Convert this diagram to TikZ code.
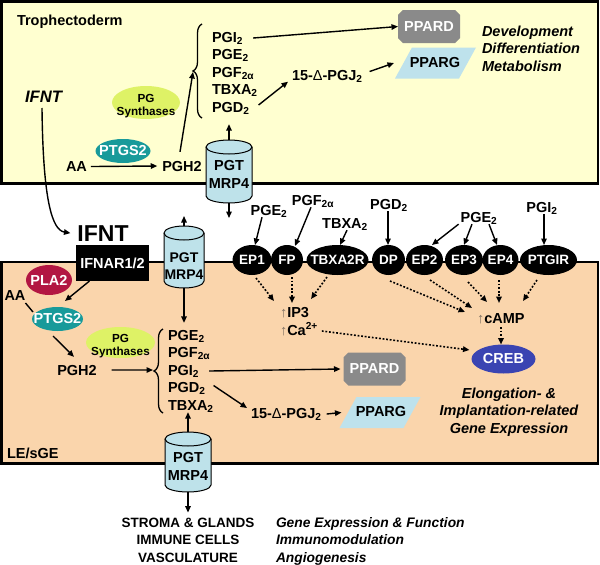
\documentclass[tikz,border=0pt]{standalone}
\usepackage{fontspec}
\setmainfont{Liberation Sans}
\usetikzlibrary{shapes.geometric,shapes.misc,decorations.pathreplacing,arrows.meta}
\definecolor{tropho}{RGB}{255,255,208}
\definecolor{lesge}{RGB}{250,213,172}
\definecolor{cylc}{RGB}{190,226,234}
\definecolor{ppargc}{RGB}{190,226,236}
\definecolor{ppardc}{RGB}{138,138,138}
\definecolor{ptgsc}{RGB}{24,154,154}
\definecolor{plac}{RGB}{178,22,66}
\definecolor{synthc}{RGB}{222,242,102}
\definecolor{crebc}{RGB}{58,68,178}
\definecolor{upc}{RGB}{130,115,100}
\newcommand\zw[1]{\makebox[0pt]{#1}}
\newcommand\mysub[1]{\textsubscript{#1}}
\newcommand\upa{{\color{upc}\mdseries ↑}}
\newcommand\mycyl[2]{%
  \draw[fill=cylc, line width=1pt] ([yshift=-7pt]#1.north west) -- ([yshift=7pt]#1.south west)
    arc[start angle=180, end angle=360, x radius=#2, y radius=7pt]
    -- ([yshift=-7pt]#1.north east)
    arc[start angle=0, end angle=180, x radius=#2, y radius=7pt] -- cycle;
  \draw[line width=1pt] ([yshift=-7pt]#1.north west) arc[start angle=180, end angle=360, x radius=#2, y radius=7pt];}
\newcommand\mypara[1]{%
  \fill[ppargc] ([xshift=17pt]#1.north west) -- (#1.north east) -- ([xshift=-17pt]#1.south east) -- (#1.south west) -- cycle;}
\begin{document}
\begin{tikzpicture}[x=1pt,y=-1pt,
  every node/.style={inner sep=0pt, outer sep=0pt, font=\bfseries\fontsize{14.5}{17.5}\selectfont},
  arr/.style={-{Triangle[length=6.5pt,width=5.5pt]}, line width=1.4pt},
  darr/.style={-{Triangle[length=6.5pt,width=5.5pt]}, line width=1.6pt, dash pattern=on 1.8pt off 1.8pt},
  recep/.style={ellipse, fill=black, text=white, minimum height=30, font=\bfseries\fontsize{13.5}{15}\selectfont},
  ptgs/.style={ellipse, fill=ptgsc, text=white},
  synth/.style={ellipse, fill=synthc},
  synthtxt/.style={align=center, anchor=base, font=\bfseries\fontsize{11.7}{13}\selectfont},
  ppard/.style={chamfered rectangle, chamfered rectangle xsep=9pt, chamfered rectangle ysep=11pt, fill=ppardc, text=white, minimum width=62, minimum height=33},
  parabox/.style={minimum width=81, minimum height=31},
  cylbox/.style={minimum width=46, minimum height=62},
  cyltxt/.style={align=center, anchor=base},
  lst/.style={anchor=base west},
  ital/.style={font=\bfseries\itshape\fontsize{14.5}{17.5}\selectfont},
  brc/.style={decorate, decoration={brace, amplitude=9pt}, line width=1.3pt}
]
\useasboundingbox (0,0) rectangle (600,565);
\fill[white] (0,0) rectangle (600,565);
% compartments
\draw[fill=tropho, line width=2.4pt] (1.5,1.5) rectangle (598,183.5);
\draw[fill=lesge, line width=2.4pt] (1.5,262) rectangle (598,463.5);

% cylinders
\node[cylbox, minimum height=63] (cylT) at (229,171.5) {};
\mycyl{cylT}{23pt}
\node[cylbox, minimum width=40, minimum height=62] (cylM) at (184,257) {};
\mycyl{cylM}{20pt}
\node[cylbox, minimum height=60] (cylL) at (188,462) {};
\mycyl{cylL}{23pt}
\node[cyltxt] (cylTt) at (229,188) {PGT\\MRP4};
\node[cyltxt, font=\bfseries\fontsize{14}{17}\selectfont] (cylMt) at (184,279) {PGT\\MRP4};
\node[cyltxt] (cylLt) at (188,480) {PGT\\MRP4};

% ---------- Trophectoderm ----------
\node[lst] (tropholbl) at (17,25.7) {Trophectoderm};
\node[anchor=base, font=\bfseries\itshape\fontsize{16.6}{18}\selectfont] (ifntT) at (43.5,102) {IFNT};
\node[anchor=base] (aaT) at (76.5,171.5) {AA};
\node[ptgs, minimum width=55, minimum height=24] (ptgsT) at (123,151) {\zw{PTGS2}};
\node[anchor=base] (pghT) at (182,171) {PGH2};
\node[synth, minimum width=68, minimum height=33] (synT) at (146,102.5) {};
\node[synthtxt] (synTt) at (146,115) {PG\\Synthases};
\node[lst] (pgiT) at (212,42) {PGI\mysub{2}};
\node[lst] (pgeT) at (212,59.5) {PGE\mysub{2}};
\node[lst] (pgfT) at (212,77) {PGF\mysub{2α}};
\node[lst] (tbxT) at (212,94.5) {TBXA\mysub{2}};
\node[lst] (pgdT) at (212,112) {PGD\mysub{2}};
\draw[brc] (202,118) -- (202,24);
\coordinate (braceT) at (193,72);
\node[lst] (pgjT) at (292,80.5) {15-{\mdseries Δ}-PGJ\mysub{2}};
\node[ppard] (ppardT) at (429,26.5) {\zw{PPARD}};
\node[parabox] (ppargT) at (435.5,63) {};
\mypara{ppargT}
\node (ppargTt) at (435,63) {PPARG};
\node[lst, ital, align=left] (devT) at (482,71) {Development\\Differentiation\\Metabolism};

\draw[arr] ([xshift=4pt]aaT.east) -- ([xshift=-5pt]pghT.west);
\draw[arr] ([shift={(-2pt,9pt)}]pghT.north) -- (braceT);
\draw[arr] ([xshift=10pt]pgiT.east) -- (ppardT.west);
\draw[arr] ([shift={(9pt,3pt)}]pgdT.east) -- ([shift={(-4pt,1pt)}]pgjT.south west);
\draw[arr] ([shift={(7pt,5pt)}]pgjT.east) -- ([xshift=-1pt]ppargT.west);
\draw[arr] (cylT.north) -- ([yshift=-10pt]cylT.north |- pgdT.south);
\draw[arr] (cylT.south) -- ++(0,15);

% ---------- between the compartments ----------
\node[anchor=base, font=\bfseries\fontsize{23}{25}\selectfont] (ifntB) at (103,241) {IFNT};
\draw[arr] ([shift={(-1.5pt,-6pt)}]ifntT.south) .. controls (43,200) and (52,230) .. ([xshift=-7pt]ifntB.west);
\node[fill=black, text=white, minimum width=73, minimum height=36] (ifnar) at (112.5,263) {IFNAR1/2};
\draw[arr] (cylM.north) -- ++(0,-10);

\node[recep, minimum width=39] (ep1) at (252,260) {\zw{EP1}};
\node[recep, minimum width=32] (fp) at (287,260) {\zw{FP}};
\node[recep, minimum width=62] (tbxr) at (337.5,260) {\zw{TBXA2R}};
\node[recep, minimum width=33] (dp) at (388.5,260) {\zw{DP}};
\node[recep, minimum width=37] (ep2) at (424.5,260) {\zw{EP2}};
\node[recep, minimum width=38] (ep3) at (464,260) {\zw{EP3}};
\node[recep, minimum width=36] (ep4) at (500.5,260) {\zw{EP4}};
\node[recep, minimum width=57] (ptgir) at (548.5,260) {\zw{PTGIR}};

\node[anchor=base] (pgeA) at (269,215) {PGE\mysub{2}};
\node[anchor=base] (pgfA) at (313,205) {PGF\mysub{2α}};
\node[anchor=base] (tbxA) at (345,228) {TBXA\mysub{2}};
\node[anchor=base] (pgdA) at (389,209) {PGD\mysub{2}};
\node[anchor=base] (pgeB) at (479,222) {PGE\mysub{2}};
\node[anchor=base] (pgiA) at (542,212) {PGI\mysub{2}};

\draw[arr] ([xshift=-7pt]pgeA.south) -- ([xshift=3pt]ep1.north);
\draw[arr] ([xshift=-2pt]pgfA.south) -- ([shift={(8pt,-1pt)}]fp.north);
\draw[arr] ([xshift=2pt]tbxA.south) -- ([xshift=2.5pt]tbxr.north);
\draw[arr] ([xshift=-1pt]pgdA.south) -- ([xshift=-0.5pt]dp.north);
\draw[arr] ([xshift=-2pt]pgeB.south west) -- ([xshift=7.5pt]ep2.north);
\draw[arr] ([xshift=-7pt]pgeB.south) -- (ep3.north);
\draw[arr] ([xshift=10pt]pgeB.south) -- ([xshift=-3.5pt]ep4.north);
\draw[arr] ([xshift=2pt]pgiA.south) -- ([xshift=-4.5pt]ptgir.north);

% ---------- LE/sGE ----------
\node[ellipse, fill=plac, text=white, minimum width=46, minimum height=30] (pla) at (49,280) {\zw{PLA2}};
\node[anchor=base] (aaL) at (15,300) {AA};
\node[ptgs, minimum width=51, minimum height=24] (ptgsL) at (57.5,319) {\zw{PTGS2}};
\node[synth, minimum width=69, minimum height=31] (synL) at (120.5,342.5) {};
\node[synthtxt] (synLt) at (120.5,355.5) {PG\\Synthases};
\node[anchor=base] (pghL) at (77,375) {PGH2};
\node[lst] (pgeL) at (168,340) {PGE\mysub{2}};
\node[lst] (pgfL) at (168,357.5) {PGF\mysub{2α}};
\node[lst] (pgiL) at (168,375) {PGI\mysub{2}};
\node[lst] (pgdL) at (168,392.5) {PGD\mysub{2}};
\node[lst] (tbxL) at (168,410) {TBXA\mysub{2}};
\draw[brc] (163,413) -- (163,329);
\coordinate (braceL) at (153,370);
\node[lst] (pgjL) at (251,418) {15-{\mdseries Δ}-PGJ\mysub{2}};
\node[ppard] (ppardL) at (374.5,369) {\zw{PPARD}};
\node[parabox] (ppargL) at (380,412.5) {};
\mypara{ppargL}
\node (ppargLt) at (381,412) {PPARG};
\node[lst] (ip3) at (280,317) {\upa IP3};
\node[lst] (ca) at (280,335) {\upa Ca\textsuperscript{2+}};
\node[lst] (camp) at (477,323) {\upa cAMP};
\node[ellipse, fill=crebc, text=white, minimum width=64, minimum height=29] (creb) at (503.5,359) {\zw{CREB}};
\node[anchor=base, ital, align=center] (elong) at (509,433) {Elongation- \&\\Implantation-related\\Gene Expression};
\node[lst] (lesgelbl) at (7,458) {LE/sGE};

\draw[arr] ([xshift=13.5pt]ifnar.south west) -- ([shift={(7.5pt,6pt)}]ptgsL.north);
\draw[line width=1.4pt] ([yshift=-3pt]aaL.south east) -- ([shift={(1pt,7pt)}]ptgsL.west);
\draw[arr] ([shift={(-4.5pt,-5pt)}]ptgsL.south) -- ([shift={(-3pt,8pt)}]pghL.north);
\draw[arr] ([xshift=15pt]pghL.east) -- (braceL);
\draw[arr] (cylM.south) -- ([yshift=7pt]cylM.south |- pgeL.north);
\draw[arr] ([xshift=10pt]pgiL.east) -- ([xshift=-3pt]ppardL.west);
\draw[arr] ([shift={(8pt,3pt)}]pgdL.east) -- ([shift={(-4pt,6pt)}]pgjL.west);
\draw[arr] ([xshift=5pt]pgjL.east) -- ([xshift=2pt]ppargL.west);
\draw[arr] (cylL.north) -- (cylL.north |- tbxL.south);

\draw[darr] ([shift={(4pt,-3pt)}]ep1.south) -- ([shift={(-6pt,16pt)}]ip3.base west);
\draw[darr] ([shift={(5pt,-2pt)}]fp.south) -- ([shift={(12pt,14pt)}]ip3.base west);
\draw[darr] ([shift={(-10.5pt,-2pt)}]tbxr.south) -- ([shift={(31pt,18pt)}]ip3.base west);
\draw[darr] ([shift={(4pt,4pt)}]ca.base east) -- ([shift={(-2pt,9pt)}]creb.west);
\draw[darr] ([shift={(1.5pt,-6pt)}]dp.south) -- ([shift={(-12pt,11pt)}]camp.base west);
\draw[darr] ([shift={(5.5pt,-5pt)}]ep2.south) -- ([shift={(-5pt,15pt)}]camp.base west);
\draw[darr] ([shift={(4pt,-7pt)}]ep3.south) -- ([shift={(10pt,21pt)}]camp.base west);
\draw[darr] ([shift={(-1.5pt,-5pt)}]ep4.south) -- ([shift={(22pt,20pt)}]camp.base west);
\draw[darr] ([shift={(-11.5pt,-5pt)}]ptgir.south) -- ([shift={(46pt,22pt)}]camp.base west);
\draw[darr] ([shift={(24pt,-4pt)}]camp.base west) -- ([xshift=-2.5pt]creb.north);

% ---------- below ----------
\node[anchor=base, align=center, font=\bfseries\fontsize{13.5}{17.5}\selectfont] (stroma) at (188,562) {STROMA \& GLANDS\\IMMUNE CELLS\\VASCULATURE};
\node[lst, align=left, font=\bfseries\itshape\fontsize{13.8}{17.5}\selectfont] (funcs) at (276,562) {Gene Expression \& Function\\Immunomodulation\\Angiogenesis};
\draw[arr] (cylL.south) -- ([yshift=5pt]cylL.south |- stroma.north);
\end{tikzpicture}
\end{document}
